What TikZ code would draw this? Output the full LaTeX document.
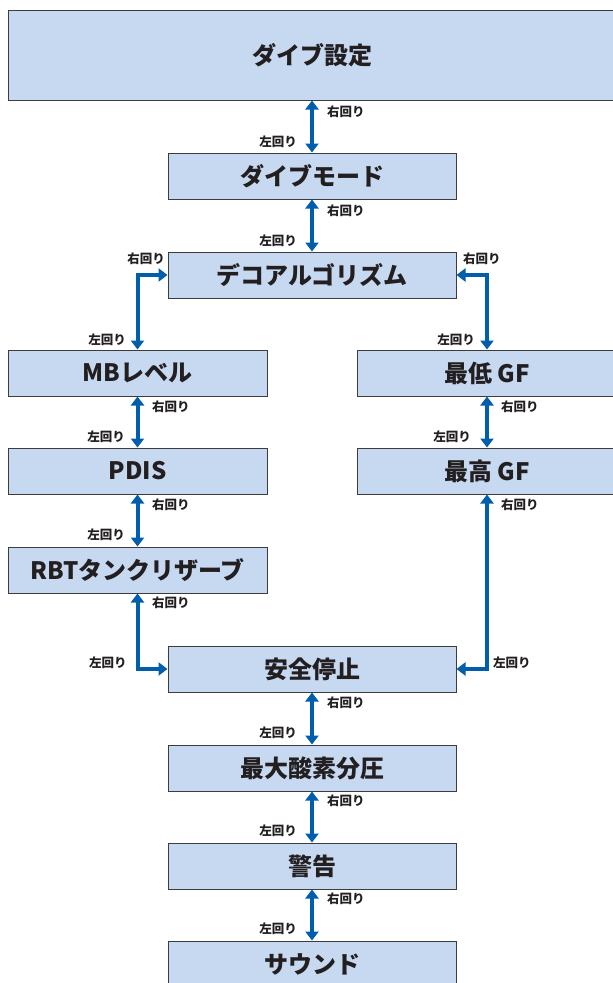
\documentclass[tikz,border=0pt]{standalone}
\usepackage{fontspec}
\setmainfont{Noto Sans CJK JP}
\usetikzlibrary{arrows.meta}
\definecolor{boxfill}{HTML}{C6D9F0}
\definecolor{boxline}{HTML}{3C3C3C}
\definecolor{txt}{HTML}{231F20}
\definecolor{arrblue}{HTML}{005EAC}
\tikzset{
  box/.style={draw=boxline, line width=1pt, fill=boxfill, text=txt, font=\bfseries\fontsize{24}{28}\selectfont, inner sep=0pt},
  cbox/.style={box, minimum width=288pt, minimum height=46pt},
  sbox/.style={box, minimum width=259pt, minimum height=46pt},
  arr/.style={draw=arrblue, line width=4pt, {Triangle[width=13pt,length=9pt]}-{Triangle[width=13pt,length=9pt]}},
  lab/.style={text=txt, font=\bfseries\fontsize{12.5}{14}\selectfont, inner sep=0pt},
}
\begin{document}
\begin{tikzpicture}[x=1pt,y=-1pt]
\useasboundingbox (0,0) rectangle (613,983);
\clip (0,0) rectangle (613,983);
% boxes
\node[box, minimum width=609pt, minimum height=90pt] (set) at (312.5,55) {ダイブ設定};
\node[cbox] (mode) at (312,176) {ダイブモード};
\node[cbox] (deco) at (312,275) {デコアルゴリズム};
\node[sbox] (mb) at (137.5,373) {MBレベル};
\node[sbox] (pdis) at (137.5,471) {PDIS};
\node[sbox] (rbt) at (137.5,570) {RBTタンクリザーブ};
\node[sbox] (low) at (487,373) {最低 GF};
\node[sbox] (high) at (487,471) {最高 GF};
\node[cbox] (safe) at (312,669) {安全停止};
\node[cbox] (ppo) at (312,768) {最大酸素分圧};
\node[cbox] (warn) at (312,866) {警告};
\node[cbox] (sound) at (312,964) {サウンド};
% connectors
\draw[arr] (mode.north |- set.south) -- (mode.north);
\draw[arr] (mode.south) -- (deco.north);
\draw[arr] (deco.west) -| (mb.north);
\draw[arr] (deco.east) -| (low.north);
\draw[arr] (mb.south) -- (pdis.north);
\draw[arr] (pdis.south) -- (rbt.north);
\draw[arr] (low.south) -- (high.north);
\draw[arr] (rbt.south) |- (safe.west);
\draw[arr] (high.south) |- (safe.east);
\draw[arr] (safe.south) -- (ppo.north);
\draw[arr] (ppo.south) -- (warn.north);
\draw[arr] (warn.south) -- (sound.north);
% labels
\node[lab, anchor=west] (r1) at (327,112) {右回り};
\node[lab, anchor=east] (l1) at (297,142) {左回り};
\node[lab, anchor=west] (r2) at (327,211) {右回り};
\node[lab, anchor=east] (l2) at (297,241) {左回り};
\node[lab, anchor=east] (r3) at (165,259) {右回り};
\node[lab, anchor=east] (l3) at (126,340) {左回り};
\node[lab, anchor=west] (r4) at (463,259) {右回り};
\node[lab, anchor=east] (l4) at (475,340) {左回り};
\node[lab, anchor=west] (r5) at (152,407) {右回り};
\node[lab, anchor=east] (l5) at (125,437) {左回り};
\node[lab, anchor=west] (r6) at (152,505) {右回り};
\node[lab, anchor=east] (l6) at (125,535) {左回り};
\node[lab, anchor=west] (r7) at (501,407) {右回り};
\node[lab, anchor=east] (l7) at (471,437) {左回り};
\node[lab, anchor=west] (r8) at (501,505) {右回り};
\node[lab, anchor=west] (l8) at (493,663) {左回り};
\node[lab, anchor=west] (r9) at (152,603) {右回り};
\node[lab, anchor=west] (l9) at (89,663) {左回り};
\node[lab, anchor=west] (r10) at (327,703) {右回り};
\node[lab, anchor=east] (l10) at (297,733) {左回り};
\node[lab, anchor=west] (r11) at (327,801) {右回り};
\node[lab, anchor=east] (l11) at (297,831) {左回り};
\node[lab, anchor=west] (r12) at (327,899) {右回り};
\node[lab, anchor=east] (l12) at (297,929) {左回り};
\end{tikzpicture}
\end{document}
